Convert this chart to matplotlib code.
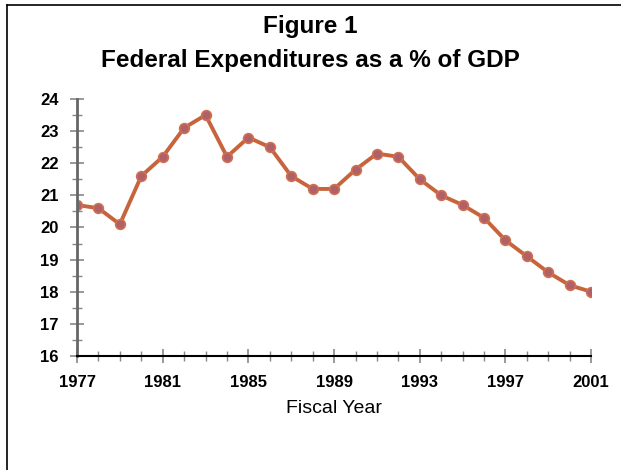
import matplotlib.pyplot as plt
from matplotlib.lines import Line2D
from matplotlib.ticker import MultipleLocator

years = list(range(1977, 2002))
pct_gdp = [20.7, 20.6, 20.1, 21.6, 22.2, 23.1, 23.5, 22.2, 22.8, 22.5,
           21.6, 21.2, 21.2, 21.8, 22.3, 22.2, 21.5, 21.0, 20.7, 20.3,
           19.6, 19.1, 18.6, 18.2, 18.0]
xticks = [1977, 1981, 1985, 1989, 1993, 1997, 2001]

plt.rcParams['font.family'] = 'Liberation Sans'

fig = plt.figure(figsize=(6.21, 4.70), dpi=100)
ax = fig.add_axes([0.124, 0.2426, 0.828, 0.5468])

ax.plot(years, pct_gdp, color='#c8643c', lw=2.8, marker='o', ms=7,
        mfc='#b06068', mec='#d07050', mew=1.2)

ax.set_xlim(1977, 2001)
ax.set_ylim(16, 24)
ax.set_xticks(xticks)
ax.xaxis.set_minor_locator(MultipleLocator(1))
ax.yaxis.set_major_locator(MultipleLocator(1))
ax.yaxis.set_minor_locator(MultipleLocator(0.5))

for s in ['top', 'right']:
    ax.spines[s].set_visible(False)
ax.spines['left'].set_color('#666666')
ax.spines['left'].set_linewidth(2)
ax.spines['bottom'].set_color('black')
ax.spines['bottom'].set_linewidth(1.5)

ax.tick_params(axis='both', which='major', direction='inout', length=10,
               width=1.2, color='#888888', labelsize=12)
ax.tick_params(axis='both', which='minor', direction='inout', length=7,
               width=1, color='#888888')
ax.tick_params(axis='y', pad=8)
ax.tick_params(axis='x', pad=9)
for lab in ax.get_xticklabels() + ax.get_yticklabels():
    lab.set_fontweight('bold')

ax.set_xlabel('Fiscal Year', fontsize=14, labelpad=7)

fig.text(0.5, 0.9426, 'Figure 1', ha='center', va='center',
         fontsize=17.5, fontweight='bold')
fig.text(0.5, 0.872, 'Federal Expenditures as a % of GDP', ha='center',
         va='center', fontsize=17.5, fontweight='bold')

# frame around the chart (left and top edges only visible)
fig.add_artist(Line2D([7 / 621, 7 / 621], [0, 1 - 5 / 470],
                      color='black', lw=1.2))
fig.add_artist(Line2D([7 / 621, 1], [1 - 5 / 470, 1 - 5 / 470],
                      color='black', lw=1.2))

fig.savefig('out.png', dpi=100)
